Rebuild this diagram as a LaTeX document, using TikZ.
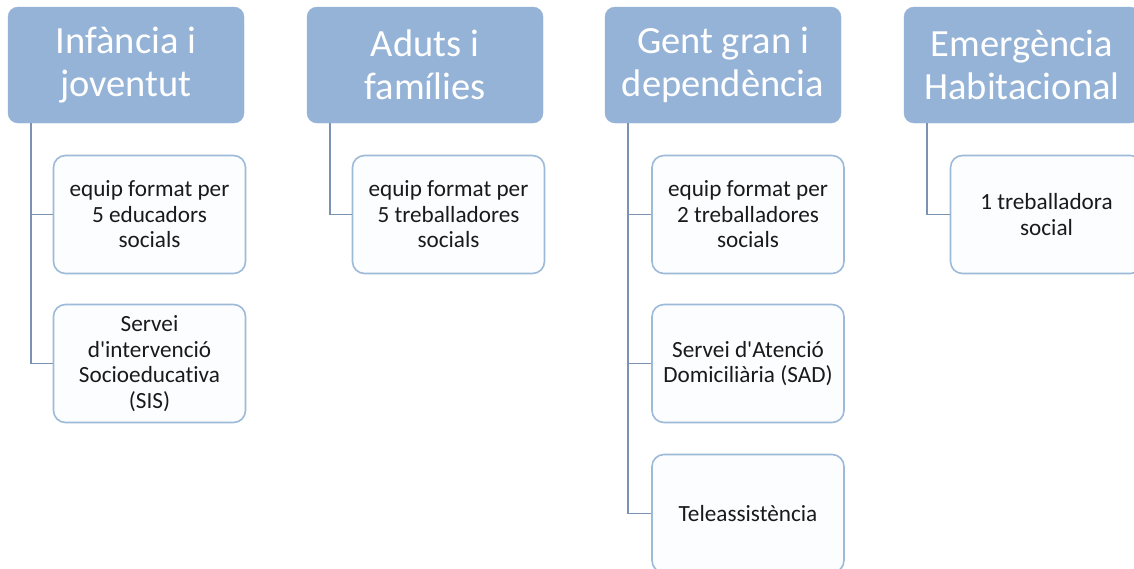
\documentclass[tikz,border=0pt]{standalone}
\usepackage{fontspec}
\setmainfont{Carlito}[Ligatures={TeX,NoCommon}]
\definecolor{hdrfill}{HTML}{95B3D7}
\definecolor{kidborder}{HTML}{9DBAD9}
\definecolor{kidfill}{HTML}{FCFDFE}
\definecolor{connclr}{HTML}{7A93B3}
\definecolor{txt}{HTML}{1A1A1A}
\begin{document}
\begin{tikzpicture}[x=1pt,y=-1pt,
  hdr/.style={draw=hdrfill,fill=hdrfill,rounded corners=10pt,minimum width=236pt,minimum height=116pt,
    text=white,align=center,inner sep=0pt,font=\fontsize{38.5}{43}\selectfont},
  kid/.style={draw=kidborder,line width=1.6pt,fill=kidfill,rounded corners=12pt,minimum width=192pt,minimum height=118pt,
    text=txt,align=center,inner sep=0pt,font=\fontsize{23.2}{25.5}\selectfont},
  conn/.style={draw=connclr,line width=1.8pt}]
\clip (0,0) rectangle (1134,568);
\fill[white] (0,0) rectangle (1134,568);
% headers
\node[hdr] (h1) at (126,65) {\raisebox{-2pt}{Infància i}\\\raisebox{-2pt}{joventut}};
\node[hdr] (h2) at (425,65) {\raisebox{-2pt}{Aduts i}\\\raisebox{-2pt}{famílies}};
\node[hdr] (h3) at (723,65) {\raisebox{-2pt}{Gent gran i}\\\raisebox{-2pt}{dependència}};
\node[hdr] (h4) at (1022,65) {\raisebox{-2pt}{Emergència}\\\raisebox{-2pt}{Habitacional}};
% trunk coordinates
\coordinate (t1) at (31,123);
\coordinate (t2) at (330,123);
\coordinate (t3) at (628,123);
\coordinate (t4) at (927,123);
% children
\node[kid] (c11) at (149.5,214.5) {equip format per\\5 educadors\\socials};
\node[kid] (c12) at (149.5,363.5) {Servei\\d\textquotesingle intervenció\\Socioeducativa\\(SIS)};
\node[kid] (c21) at (448.5,214.5) {equip format per\\5 treballadores\\socials};
\node[kid] (c31) at (748,214.5) {equip format per\\2 treballadores\\socials};
\node[kid] (c32) at (748,363.5) {Servei d\textquotesingle Atenció\\Domiciliària (SAD)};
\node[kid] (c33) at (748,513.5) {Teleassistència};
\node[kid] (c41) at (1046.5,214.5) {1 treballadora\\social};
% connectors
\draw[conn] (t1) |- (c11.west);
\draw[conn] (t1) |- (c12.west);
\draw[conn] (t2) |- (c21.west);
\draw[conn] (t3) |- (c31.west);
\draw[conn] (t3) |- (c32.west);
\draw[conn] (t3) |- (c33.west);
\draw[conn] (t4) |- (c41.west);
\end{tikzpicture}
\end{document}
